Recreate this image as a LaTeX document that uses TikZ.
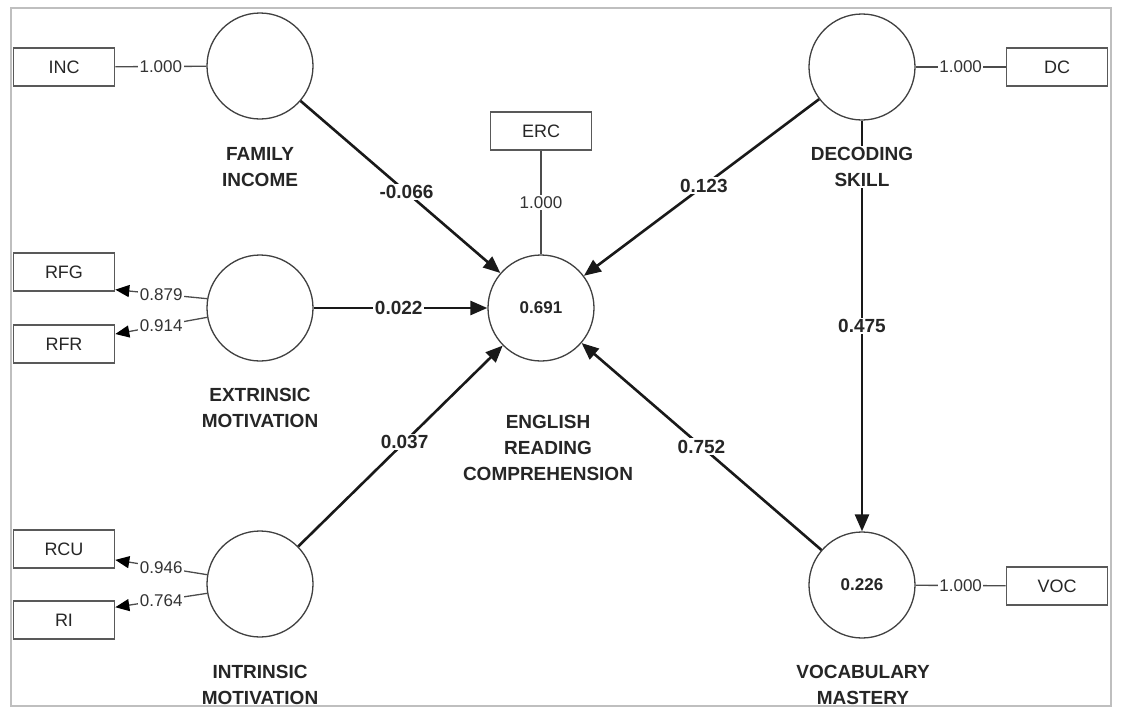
\documentclass[tikz,border=0pt]{standalone}
\usepackage{fontspec}
\setmainfont{Liberation Sans}
\usetikzlibrary{arrows.meta}
\begin{document}
\begin{tikzpicture}[x=1pt,y=-1pt,
  lv/.style={circle,draw=black!75,line width=1.3pt,minimum size=106pt,inner sep=0pt,text=black!85,font=\fontsize{17}{20}\selectfont\bfseries},
  mv/.style={rectangle,draw=black!65,line width=1.6pt,minimum width=101pt,minimum height=38pt,inner sep=0pt,text=black!85,font=\fontsize{18}{20}\selectfont},
  cname/.style={align=center,fill=white,inner sep=1pt,text=black!85,font=\fontsize{19}{26}\selectfont\bfseries},
  sarrow/.style={line width=2.6pt,black!90,-{Triangle[length=17pt,width=14pt]}},
  plabel/.style={fill=white,inner sep=1.5pt,text=black!85,font=\fontsize{19}{20}\selectfont\bfseries},
  mline/.style={draw=black!70,line width=1.3pt},
  marrow/.style={mline,-{Triangle[length=14pt,width=12pt,fill=black,color=black]}},
  mlabel/.style={fill=white,inner sep=1.5pt,text=black!80,font=\fontsize{17}{20}\selectfont},
]
\useasboundingbox (0,0) rectangle (1127,718);

% latent variables
\node[lv] (fi) at (260,66) {};
\node[lv] (em) at (260,308) {};
\node[lv] (im) at (260,584) {};
\node[lv] (erc) at (541,308) {0.691};
\node[lv] (ds) at (862,67) {};
\node[lv] (vm) at (862,585) {0.226};

% indicators
\node[mv] (inc) at (64,67) {INC};
\node[mv] (rfg) at (64,272) {RFG};
\node[mv] (rfr) at (64,344) {RFR};
\node[mv] (rcu) at (64,549) {RCU};
\node[mv] (ri) at (64,620) {RI};
\node[mv] (ercb) at (541,131) {ERC};
\node[mv] (dc) at (1057,67) {DC};
\node[mv] (voc) at (1057,586) {VOC};

% measurement lines
\draw[mline] (inc) -- node[mlabel]{1.000} (fi);
\draw[marrow] (em.170) -- node[mlabel]{0.879} (rfg.-19);
\draw[marrow] (em.190) -- node[mlabel]{0.914} (rfr.11);
\draw[marrow] (im.170) -- node[mlabel]{0.946} (rcu.-12);
\draw[marrow] (im.190) -- node[mlabel]{0.764} (ri.14);
\draw[mline] (ercb) -- node[mlabel]{1.000} (erc);
\draw[mline] (ds) -- node[mlabel]{1.000} (dc);
\draw[mline] (vm) -- node[mlabel]{1.000} (voc);

% structural paths
\draw[sarrow] (fi) -- node[plabel,pos=0.53]{-0.066} (erc);
\draw[sarrow] (em) -- node[plabel,pos=0.49]{0.022} (erc);
\draw[sarrow] (im) -- node[plabel,pos=0.52]{0.037} (erc);
\draw[sarrow] (ds) -- node[plabel,pos=0.49]{0.123} (erc);
\draw[sarrow] (vm) -- node[plabel,pos=0.5]{0.752} (erc);
\draw[sarrow] (ds) -- node[plabel,pos=0.5]{0.475} (vm);

% construct names
\node[cname] (fin) at (260,167) {FAMILY\\INCOME};
\node[cname] (emn) at (260,408) {EXTRINSIC\\MOTIVATION};
\node[cname] (imn) at (260,685) {INTRINSIC\\MOTIVATION};
\node[cname] (ercn) at (548,448) {ENGLISH\\READING\\COMPREHENSION};
\node[cname] (dsn) at (862,167) {DECODING\\SKILL};
\node[cname] (vmn) at (863,685) {VOCABULARY\\MASTERY};

% frame
\draw[black!25,line width=1.5pt] (11,8) rectangle (1111,706);
\end{tikzpicture}
\end{document}
